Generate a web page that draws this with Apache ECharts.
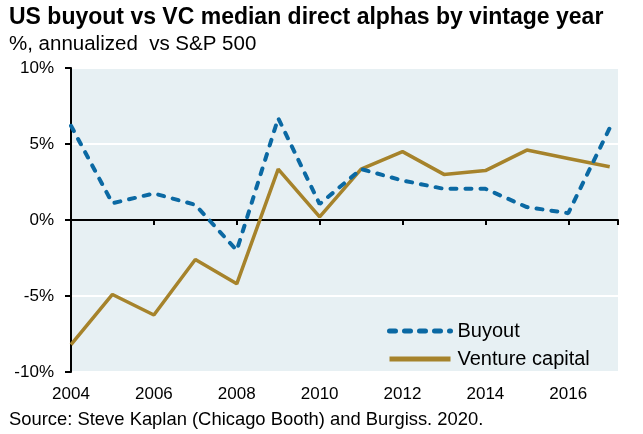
<!DOCTYPE html>
<html>
<head>
<meta charset="utf-8">
<script src="https://cdn.jsdelivr.net/npm/echarts@6/dist/echarts.min.js"></script>
<style>
html,body{margin:0;padding:0;background:#fff;}
#chart{width:643px;height:434px;}
</style>
</head>
<body>
<div id="chart"></div>
<script>
var years = [2004,2005,2006,2007,2008,2009,2010,2011,2012,2013,2014,2015,2016,2017];
var buyout = [6.2,1.1,1.75,1.0,-2.0,6.7,1.05,3.35,2.6,2.05,2.05,0.85,0.45,6.05];
var venture = [-8.2,-4.9,-6.25,-2.6,-4.2,3.35,0.2,3.35,4.5,3.0,3.25,4.6,4.05,3.5];
var yTicks = [-10,-5,0,5,10];

var pairs = function(xs,ys){
	var arr = [];
	for(var i=0;i<xs.length;i++){ arr.push([xs[i],ys[i]]); }
	return arr;
}

var font = "Liberation Sans, Arial, sans-serif";
var chart = echarts.init(document.getElementById("chart"));
var option = {
	animation: false,
	textStyle: {fontFamily: font},
	title: [
		{text: "US buyout vs VC median direct alphas by vintage year", left: 9, top: 6, padding: 0,
			textStyle: {fontSize: 23, fontWeight: "bold", color: "#000", fontFamily: font}},
		{text: "%, annualized  vs S&P 500", left: 9, top: 34, padding: 0,
			textStyle: {fontSize: 20.5, fontWeight: "normal", color: "#000", fontFamily: font}},
		{text: "Source: Steve Kaplan (Chicago Booth) and Burgiss. 2020.", left: 9, top: 411, padding: 0,
			textStyle: {fontSize: 18.4, fontWeight: "normal", color: "#000", fontFamily: font}}
	],
	legend: {
		orient: "vertical", left: 387, top: 321, padding: 0,
		itemWidth: 61, itemHeight: 14, itemGap: 8,
		itemStyle: {opacity: 0},
		lineStyle: {width: 5},
		textStyle: {fontSize: 20, color: "#000", fontFamily: font, padding: [0,0,0,2]},
		data: ["Buyout","Venture capital"]
	},
	grid: {left: 71, right: 25, top: 68, bottom: 62, show: true, backgroundColor: "#e7f0f3", borderWidth: 0},
	xAxis: [
		{type: "value", min: 2004, max: 2017.2, interval: 2, position: "bottom",
			axisLine: {show: false, onZero: false}, axisTick: {show: false}, splitLine: {show: false},
			axisLabel: {color: "#000", fontSize: 17, margin: 14, showMaxLabel: false,
				formatter: function(v){ return v % 2 === 0 ? String(v) : ""; }}},
		{type: "value", min: 2004, max: 2017.2, interval: 2, position: "top",
			axisLine: {show: true, onZero: true, lineStyle: {color: "#000", width: 2}},
			axisTick: {show: true, inside: true, length: 5, lineStyle: {color: "#000", width: 2}},
			axisLabel: {show: false}, splitLine: {show: false}}
	],
	yAxis: {
		type: "value", min: yTicks[0], max: yTicks[yTicks.length-1], interval: 5,
		axisLine: {show: true, lineStyle: {color: "#000", width: 2}},
		axisTick: {show: true, length: 6, lineStyle: {color: "#000", width: 2}},
		axisLabel: {color: "#000", fontSize: 17, margin: 17, formatter: "{value}%"},
		splitLine: {show: true, lineStyle: {color: "#ffffff", width: 2}}
	},
	series: [
		{name: "Buyout", type: "line", xAxisIndex: 0, symbol: "none", z: 3,
			data: pairs(years,buyout),
			itemStyle: {color: "#0b69a3"},
			lineStyle: {color: "#0b69a3", width: 4, type: [6,9], cap: "round"}},
		{name: "Venture capital", type: "line", xAxisIndex: 0, symbol: "none", z: 2,
			data: pairs(years,venture),
			itemStyle: {color: "#a6832b"},
			lineStyle: {color: "#a6832b", width: 3.5}}
	]
};
chart.setOption(option);
</script>
</body>
</html>
